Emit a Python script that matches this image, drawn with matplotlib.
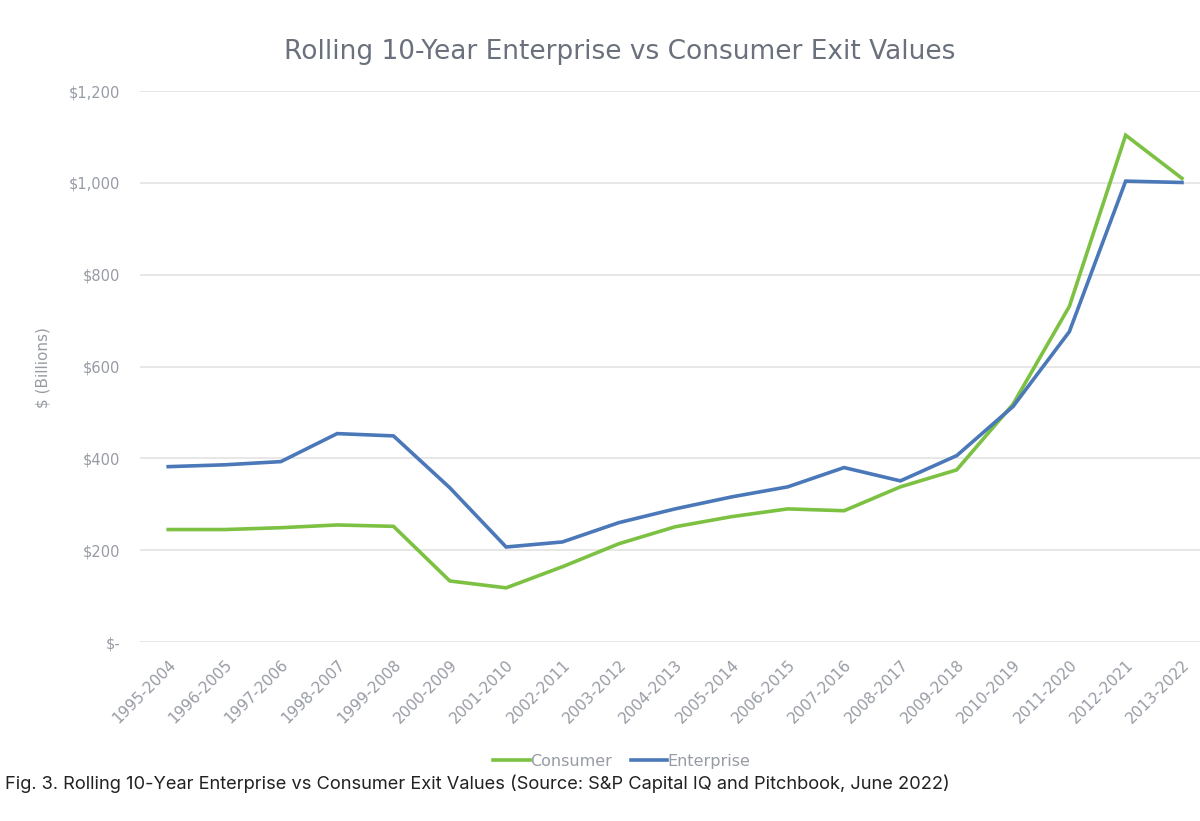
import matplotlib
matplotlib.use("Agg")
import matplotlib.pyplot as plt
from matplotlib.ticker import FuncFormatter

periods = ["1995-2004", "1996-2005", "1997-2006", "1998-2007", "1999-2008",
           "2000-2009", "2001-2010", "2002-2011", "2003-2012", "2004-2013",
           "2005-2014", "2006-2015", "2007-2016", "2008-2017", "2009-2018",
           "2010-2019", "2011-2020", "2012-2021", "2013-2022"]
consumer = [245, 245, 249, 255, 252, 133, 118, 164, 214, 251, 273, 290, 286,
            338, 375, 518, 731, 1104, 1010]
enterprise = [382, 386, 393, 454, 449, 336, 207, 218, 260, 290, 316, 338, 380,
              351, 406, 513, 676, 1004, 1001]
yticks = [0, 200, 400, 600, 800, 1000, 1200]

GREEN = "#7cc142"
BLUE = "#4a78b8"
GRAY = "#979ba4"
FONT = "DejaVu Sans"

fig = plt.figure(figsize=(12, 8.21), dpi=100)
ax = fig.add_axes([0.1167, 0.218, 0.8833, 0.671])
x = list(range(len(periods)))
ax.plot(x, consumer, color=GREEN, lw=2.6, label="Consumer", solid_joinstyle="miter")
ax.plot(x, enterprise, color=BLUE, lw=2.6, label="Enterprise", solid_joinstyle="miter")

ax.set_xlim(-0.5, 18.32)
ax.set_ylim(0, 1200)
ax.set_yticks(yticks)
ax.yaxis.set_major_formatter(FuncFormatter(lambda v, p: "$-" if v == 0 else f"${int(v):,}"))
ax.grid(axis="y", color="#e3e3e3", lw=1.2)
ax.set_axisbelow(True)
for s in ax.spines.values():
    s.set_visible(False)
ax.tick_params(axis="both", length=0, colors=GRAY, labelsize=10.5)
ax.tick_params(axis="y", pad=14)
ax.set_xticks(x)
ax.set_xticklabels(periods, rotation=45, ha="right", rotation_mode="anchor",
                   fontsize=11, color=GRAY, fontfamily=FONT)
for t in ax.get_yticklabels():
    t.set_fontfamily(FONT)
ax.tick_params(axis="x", pad=11)

fig.text(0.036, 0.552, "$ (Billions)", rotation=90, ha="center", va="center",
         color=GRAY, fontsize=11, fontfamily=FONT)

fig.text(0.516, 0.937, "Rolling 10-Year Enterprise vs Consumer Exit Values",
         ha="center", va="center", fontsize=19, color="#6a707c", fontfamily=FONT)

leg = fig.legend(loc="center", bbox_to_anchor=(0.518, 0.073), ncol=2, frameon=False,
                 handlelength=2.3, handletextpad=0.0, columnspacing=1.2,
                 prop={"family": FONT, "size": 11.5})
for t in leg.get_texts():
    t.set_color(GRAY)

fig.text(0.004, 0.045, "Fig. 3. Rolling 10-Year Enterprise vs Consumer Exit Values (Source: S&P Capital IQ and Pitchbook, June 2022)",
         ha="left", va="center", fontsize=13.15, color="#222222", fontfamily="Inter")

fig.savefig("out.png", dpi=100)
